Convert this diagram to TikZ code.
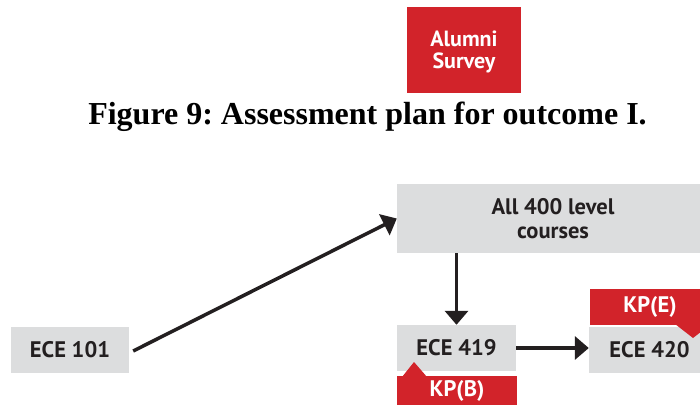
\documentclass[tikz,border=0pt]{standalone}
\usepackage{fontspec}
\setmainfont{Liberation Serif}
\newfontfamily\boxfont{PT Sans}
\usetikzlibrary{arrows.meta}
\definecolor{kred}{HTML}{D2232A}
\definecolor{kgray}{HTML}{DCDDDE}
\definecolor{ktext}{HTML}{231F20}
\begin{document}
\frenchspacing
\begin{tikzpicture}[x=1pt,y=-1pt,
  boxfont/.style={font=\boxfont\bfseries\fontsize{22.5}{24}\selectfont},
  graybox/.style={boxfont, fill=kgray, draw=none, inner sep=0pt, text=ktext, align=center},
  redbox/.style={boxfont, fill=kred, draw=none, inner sep=0pt, text=white, align=center},
  conn/.style={line width=3.5pt, ktext, -{Triangle[length=14pt,width=23pt]}}
]
\useasboundingbox (0,0) rectangle (700,404);
% title
\node[anchor=base, inner sep=0pt, font=\fontsize{32}{32}\selectfont\bfseries] (title) at (367.5,124) {Figure 9: Assessment plan for outcome I.};
% alumni survey
\node[redbox, minimum width=114pt, minimum height=86pt, text depth=0pt, font=\boxfont\bfseries\fontsize{22}{22}\selectfont] (alumni) at (464,50) {Alumni\\Survey};
% gray boxes
\node[graybox, minimum width=312pt, minimum height=69pt] (all400) at (553,218.5) {All 400 level\\courses};
\node[graybox, minimum width=118pt, minimum height=46pt] (e101) at (70,350) {ECE 101};
\node[graybox, minimum width=119pt, minimum height=46pt] (e419) at (456.5,348) {ECE 419};
\node[graybox, minimum width=121pt, minimum height=46pt] (e420) at (649.5,350) {ECE 420};
% tabs
\node[redbox, minimum width=120pt, minimum height=36pt] (kpe) at (650,307) {KP(E)};
\fill[kred] (675,324) -- (693,338) -- (711,324) -- cycle;
\node[redbox, minimum width=120pt, minimum height=30pt] (kpb) at (457,391) {KP(B)};
\fill[kred] (402,377) -- (414,362) -- (427,377) -- cycle;
% connectors
\draw[conn] ([xshift=4pt,yshift=-1pt]e101.east) -- (all400.west);
\draw[conn] (e419.north |- all400.south) -- (e419.north);
\draw[conn] (e419.east) -- (e419.east -| e420.west);
\end{tikzpicture}
\end{document}
